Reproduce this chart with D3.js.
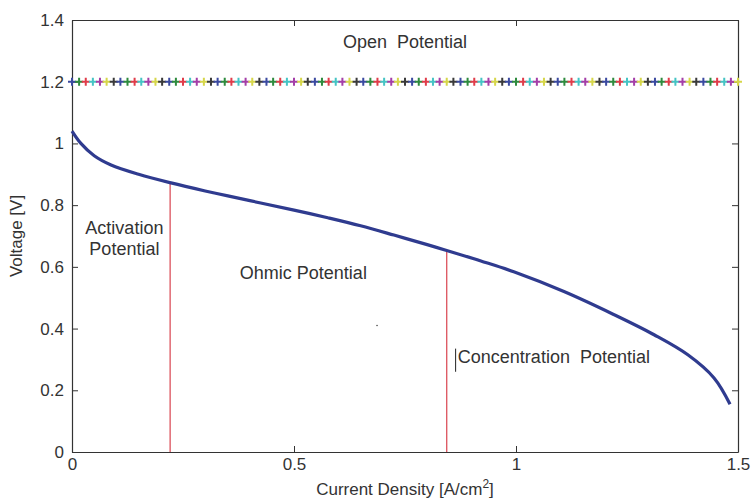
<!DOCTYPE html>
<html>
<head>
<meta charset="utf-8">
<script src="https://cdn.jsdelivr.net/npm/d3@7"></script>
<style>
  body { margin: 0; background: #fff; }
  text { font-family: "Liberation Sans", Arial, sans-serif; fill: #333; }
</style>
</head>
<body>
<div id="chart"></div>
<script>
// polarization curve
const currentDensity = [0, 0.02, 0.05, 0.088, 0.15, 0.223, 0.3, 0.351, 0.425, 0.5, 0.576, 0.65,
  0.725, 0.8, 0.842, 0.921, 0.995, 1.108, 1.221, 1.311, 1.387, 1.446, 1.482];
const cellVoltage = [1.04, 1.0, 0.96, 0.93, 0.9, 0.872, 0.846, 0.83, 0.807, 0.784, 0.759, 0.733,
  0.703, 0.672, 0.654, 0.619, 0.584, 0.52, 0.445, 0.38, 0.315, 0.24, 0.155];

// open circuit potential markers
const openX = [0, 0.016, 0.031, 0.047, 0.063, 0.078, 0.094, 0.109, 0.125, 0.141, 0.156, 0.172, 0.188,
  0.203, 0.219, 0.234, 0.25, 0.266, 0.281, 0.297, 0.313, 0.328, 0.344, 0.359, 0.375, 0.391, 0.406,
  0.422, 0.438, 0.453, 0.469, 0.484, 0.5, 0.516, 0.531, 0.547, 0.563, 0.578, 0.594, 0.609, 0.625,
  0.641, 0.656, 0.672, 0.688, 0.703, 0.719, 0.734, 0.75, 0.766, 0.781, 0.797, 0.813, 0.828, 0.844,
  0.859, 0.875, 0.891, 0.906, 0.922, 0.938, 0.953, 0.969, 0.984, 1, 1.016, 1.031, 1.047, 1.063,
  1.078, 1.094, 1.109, 1.125, 1.141, 1.156, 1.172, 1.188, 1.203, 1.219, 1.234, 1.25, 1.266, 1.281,
  1.297, 1.313, 1.328, 1.344, 1.359, 1.375, 1.391, 1.406, 1.422, 1.438, 1.453, 1.469, 1.484, 1.5];
const openVoltage = 1.2;
const markerColors = ["#3b4aa0", "#2e8b3e", "#e03c4a", "#45c4c4", "#a43ea8", "#d6d64a", "#3a3a3a"];

// region boundaries (red lines)
const boundX = [0.221, 0.844];
const boundTop = [0.873, 0.653];

const xTicks = [0, 0.5, 1, 1.5];
const yTicks = [0, 0.2, 0.4, 0.6, 0.8, 1, 1.2, 1.4];

const width = 752, height = 500;
const margin = { top: 20, right: 14, bottom: 48, left: 72 };
const w = width - margin.left - margin.right;
const h = height - margin.top - margin.bottom;

const svg = d3.select("#chart").append("svg")
  .attr("width", width)
  .attr("height", height);

const g = svg.append("g")
  .attr("transform", "translate(" + margin.left + "," + margin.top + ")");

const x = d3.scaleLinear().domain([0, 1.5]).range([0, w]);
const y = d3.scaleLinear().domain([0, 1.4]).range([h, 0]);

// axes, ticks pointing inward like matlab
const fmt = d => d3.format("")(d);
g.append("g")
  .attr("transform", "translate(0," + h + ")")
  .call(d3.axisBottom(x).tickValues(xTicks).tickSizeInner(-6).tickSizeOuter(0).tickPadding(6).tickFormat(fmt));
g.append("g")
  .call(d3.axisLeft(y).tickValues(yTicks).tickSizeInner(-6).tickSizeOuter(0).tickPadding(8).tickFormat(fmt));
g.append("g")
  .attr("transform", "translate(" + w + ",0)")
  .call(d3.axisRight(y).tickValues(yTicks).tickSizeInner(-6).tickSizeOuter(0).tickFormat(""));
g.append("g")
  .call(d3.axisTop(x).tickValues(xTicks).tickSizeInner(-6).tickSizeOuter(0).tickFormat(""));

g.selectAll(".domain").attr("stroke", "#333").attr("stroke-width", 1.2);
g.selectAll(".tick line").attr("stroke", "#333");
g.selectAll(".tick text").style("font-size", "17px").attr("fill", "#333");

// red boundaries
g.selectAll(".bound")
  .data(boundX)
  .enter().append("line")
  .attr("x1", d => x(d)).attr("x2", d => x(d))
  .attr("y1", y(0))
  .attr("y2", (d, i) => y(boundTop[i]))
  .attr("stroke", "#d9434f")
  .attr("stroke-width", 1.2);

// polarization curve
const curve = d3.line()
  .x(d => x(d[0]))
  .y(d => y(d[1]))
  .curve(d3.curveCatmullRom);
g.append("path")
  .datum(currentDensity.map((d, i) => [d, cellVoltage[i]]))
  .attr("fill", "none")
  .attr("stroke", "#2f3b8f")
  .attr("stroke-width", 3.2)
  .attr("stroke-linejoin", "round")
  .attr("d", curve);

// open potential plus markers
const ms = 4;
g.selectAll(".mk")
  .data(openX)
  .enter().append("path")
  .attr("d", d => "M" + (x(d) - ms) + "," + y(openVoltage) + "h" + (2 * ms) +
    "M" + x(d) + "," + (y(openVoltage) - ms) + "v" + (2 * ms))
  .attr("stroke", (d, i) => markerColors[i % markerColors.length])
  .attr("stroke-width", 2);

// annotations
const ann = g.append("g").style("font-size", "18px");
ann.append("text").attr("x", x(0.75)).attr("y", y(1.31)).attr("text-anchor", "middle")
  .attr("xml:space", "preserve").text("Open  Potential");
ann.append("text").attr("x", x(0.118)).attr("y", y(0.705)).attr("text-anchor", "middle").text("Activation");
ann.append("text").attr("x", x(0.118)).attr("y", y(0.637)).attr("text-anchor", "middle").text("Potential");
ann.append("text").attr("x", x(0.378)).attr("y", y(0.56)).text("Ohmic Potential");
ann.append("text").attr("x", x(0.869)).attr("y", y(0.29))
  .attr("xml:space", "preserve").text("Concentration  Potential");
// stray cursor bar and dot from the original figure
g.append("line")
  .attr("x1", x(0.864)).attr("x2", x(0.864))
  .attr("y1", y(0.335)).attr("y2", y(0.26))
  .attr("stroke", "#222").attr("stroke-width", 1);
g.append("circle").attr("cx", x(0.687)).attr("cy", y(0.41)).attr("r", 0.8).attr("fill", "#444");

// axis labels
svg.append("text")
  .attr("transform", "translate(22," + (margin.top + h / 2) + ") rotate(-90)")
  .attr("text-anchor", "middle")
  .style("font-size", "17px")
  .text("Voltage [V]");
const xl = svg.append("text")
  .attr("x", margin.left + w / 2)
  .attr("y", 495)
  .attr("text-anchor", "middle")
  .style("font-size", "17px");
xl.append("tspan").text("Current Density [A/cm");
xl.append("tspan").attr("dy", -7).style("font-size", "12px").text("2");
xl.append("tspan").attr("dy", 7).text("]");
</script>
</body>
</html>
